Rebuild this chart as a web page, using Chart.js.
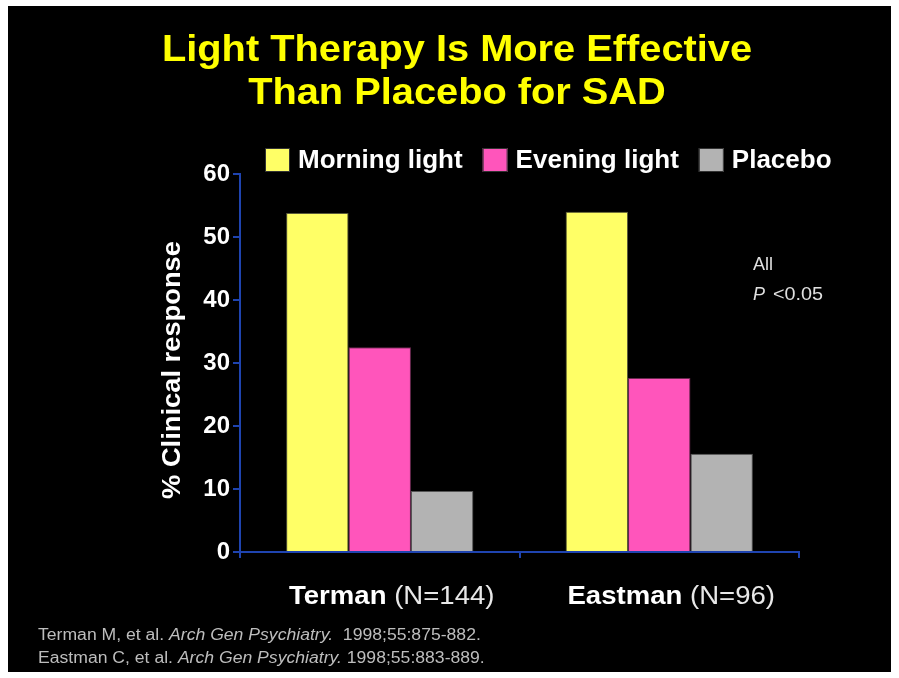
<!DOCTYPE html>
<html>
<head>
<meta charset="utf-8">
<script src="https://cdn.jsdelivr.net/npm/chart.js@4"></script>
<style>
  html, body { margin: 0; padding: 0; background: #fff; }
  .chart-container { position: absolute; left: 8px; top: 6px; width: 883px; height: 666px; background: #000; }
</style>
</head>
<body>
<div class="chart-container"><canvas id="myChart" width="883" height="666"></canvas></div>
<script>
const ctx = document.getElementById('myChart').getContext('2d');

// values
const categories = ['Terman', 'Eastman'];
const sampleSizes = ['(N=144)', '(N=96)'];
const seriesNames = ['Morning light', 'Evening light', 'Placebo'];
const morningLight = [53.8, 54];
const eveningLight = [32.5, 27.6];
const placebo = [9.7, 15.6];
const yMin = 0, yMax = 60, yStep = 10;

const titleLines = ['Light Therapy Is More Effective', 'Than Placebo for SAD'];
const yTitle = '% Clinical response';
const noteLines = ['All', 'P <0.05'];
const refs = [
    ['Terman M, et al. ', 'Arch Gen Psychiatry.', '  1998;55:875-882.'],
    ['Eastman C, et al. ', 'Arch Gen Psychiatry.', ' 1998;55:883-889.'],
];

const FONT = '"Liberation Sans", Arial, sans-serif';
const axisBlue = '#1f44b0';

const data = {
    labels: categories,
    datasets: [
        { label: seriesNames[0], data: morningLight, backgroundColor: '#ffff66', borderColor: '#5a5a3a', borderWidth: 1 },
        { label: seriesNames[1], data: eveningLight, backgroundColor: '#ff55bb', borderColor: '#6a2a50', borderWidth: 1 },
        { label: seriesNames[2], data: placebo, backgroundColor: '#b3b3b3', borderColor: '#555', borderWidth: 1 },
    ],
};

// text on the slide looks a bit stretched sideways, so draw with a x-scale
function wideText(c, text, x, y, sx) {
    c.save();
    c.translate(x, y);
    c.scale(sx, 1);
    c.fillText(text, 0, 0);
    c.restore();
    return c.measureText(text).width * sx;
}

const slideText = {
    id: 'slideText',
    afterDraw(chart) {
        const c = chart.ctx;
        const xs = chart.scales.x;
        c.save();
        c.textBaseline = 'middle';

        // title
        c.fillStyle = '#ffff00';
        c.font = 'bold 37px ' + FONT;
        c.textAlign = 'center';
        wideText(c, titleLines[0], 449, 45, 1.075);
        wideText(c, titleLines[1], 449, 88, 1.075);

        // legend
        c.font = 'bold 25px ' + FONT;
        c.textAlign = 'left';
        let x = 257;
        chart.data.datasets.forEach(ds => {
            c.fillStyle = ds.backgroundColor;
            c.fillRect(x, 142, 25, 24);
            c.strokeStyle = '#333';
            c.lineWidth = 1;
            c.strokeRect(x + 0.5, 142.5, 24, 23);
            x += 33;
            c.fillStyle = '#fff';
            x += wideText(c, ds.label, x, 155, 1.04) + 20;
        });

        // y axis title
        c.save();
        c.translate(165, 364);
        c.rotate(-Math.PI / 2);
        c.textAlign = 'center';
        c.font = 'bold 26px ' + FONT;
        c.fillStyle = '#fff';
        wideText(c, yTitle, 0, 0, 1.05);
        c.restore();

        // category labels: name bold, sample size plain
        categories.forEach((cat, i) => {
            const sx = 1.06;
            const bold = 'bold 26px ' + FONT;
            const plain = '26px ' + FONT;
            c.font = bold;
            const w1 = c.measureText(cat + ' ').width * sx;
            c.font = plain;
            const w2 = c.measureText(sampleSizes[i]).width * sx;
            const cx = xs.getPixelForValue(i) + 12;
            let lx = cx - (w1 + w2) / 2;
            c.textAlign = 'left';
            c.fillStyle = '#fff';
            c.font = bold;
            wideText(c, cat + ' ', lx, 591, sx);
            c.font = plain;
            c.fillStyle = '#e8e8e8';
            wideText(c, sampleSizes[i], lx + w1, 591, sx);
        });

        // significance note
        c.fillStyle = '#e0e0e0';
        c.font = '18px ' + FONT;
        c.fillText(noteLines[0], 745, 259);
        c.font = 'italic 18px ' + FONT;
        c.fillText('P', 745, 289);
        const pw = c.measureText('P ').width;
        c.font = '18px ' + FONT;
        wideText(c, noteLines[1].slice(2), 745 + pw + 3, 289, 1.1);

        // references
        c.fillStyle = '#bdbdbd';
        refs.forEach((parts, r) => {
            let rx = 30;
            const ry = 630 + r * 23;
            parts.forEach((p, k) => {
                c.font = (k === 1 ? 'italic ' : '') + '16px ' + FONT;
                rx += wideText(c, p, rx, ry, 1.1);
            });
        });

        c.restore();
    },
};

const options = {
    responsive: false,
    animation: false,
    layout: { padding: { top: 168, right: 92, left: 0, bottom: 0 } },
    plugins: {
        legend: { display: false },
        tooltip: { enabled: false },
    },
    datasets: {
        bar: { categoryPercentage: 0.67, barPercentage: 1.0 },
    },
    scales: {
        x: {
            ticks: { display: false },
            grid: { drawOnChartArea: false, color: axisBlue, tickLength: 6, lineWidth: 2 },
            border: { color: axisBlue, width: 2 },
            afterFit(scale) { scale.height = 120; },
        },
        y: {
            min: yMin,
            max: yMax,
            ticks: { stepSize: yStep, color: '#fff', font: { family: FONT, size: 24, weight: 'bold' }, padding: 3 },
            grid: { drawOnChartArea: false, color: axisBlue, tickLength: 7, lineWidth: 2 },
            border: { color: axisBlue, width: 2 },
            afterFit(scale) { scale.width = 232; },
        },
    },
};

const myChart = new Chart(ctx, {
    type: 'bar',
    data: data,
    options: options,
    plugins: [slideText],
});
</script>
</body>
</html>
